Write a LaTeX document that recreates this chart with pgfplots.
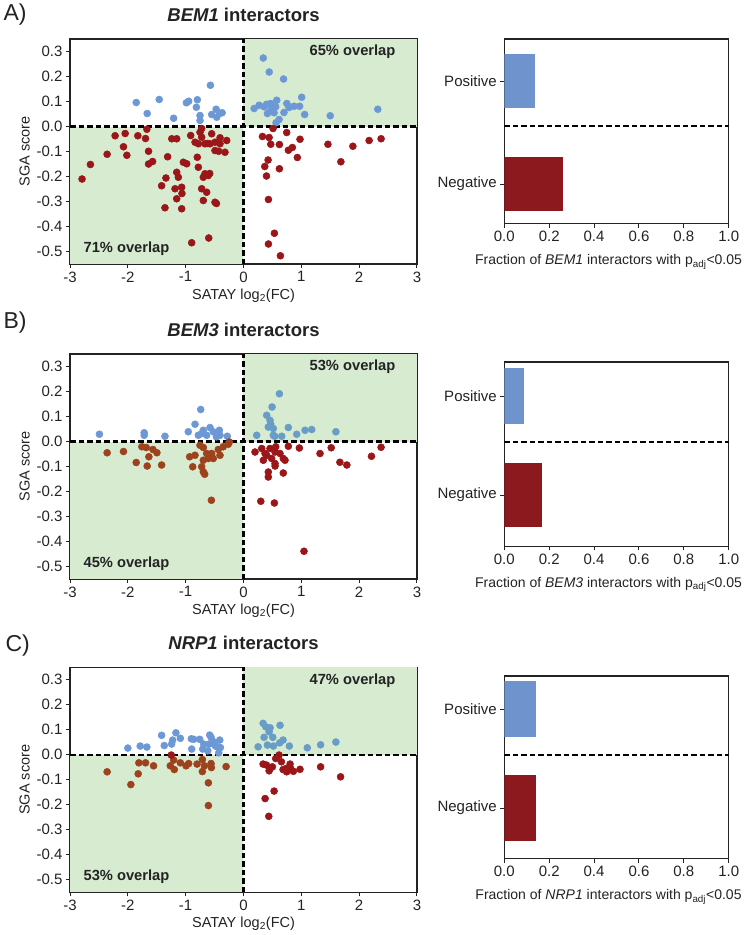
\documentclass[border=0pt]{standalone}
\usepackage{fontspec}
\setmainfont{Liberation Sans}
\usepackage{pgfplots}
\pgfplotsset{compat=1.18}

\definecolor{posblue}{RGB}{108,152,214}
\definecolor{posteal}{RGB}{104,157,200}
\definecolor{negred}{RGB}{155,22,24}
\definecolor{negbrown}{RGB}{158,66,30}
\definecolor{quadgreen}{RGB}{214,235,208}
\definecolor{barblue}{RGB}{111,147,205}
\definecolor{barred}{RGB}{139,25,30}
\definecolor{ink}{RGB}{35,35,35}

\tikzset{
  zeroline/.style={black, line width=2.2pt, dash pattern=on 5.5pt off 3pt},
  overlap/.style={font=\fontsize{14.7}{17}\selectfont\bfseries, text=ink},
}

\pgfplotsset{
  base/.style={
    scale only axis,
    axis line style={ink, line width=1.2pt},
    tick style={ink, line width=1pt},
    tick align=outside, major tick length=4pt,
    xtick pos=bottom, ytick pos=left,
    ticklabel style={font=\fontsize{15}{17}\selectfont, text=ink},
    label style={font=\fontsize{14.5}{17}\selectfont, text=ink},
    /pgf/number format/assume math mode=true,
  },
  scatterax/.style={
    base, width=347pt, height=225pt,
    xmin=-3, xmax=3, ymin=-0.55, ymax=0.35,
    xtick={-3,-2,-1,0,1,2,3},
    ytick={-0.5,-0.4,-0.3,-0.2,-0.1,0,0.1,0.2,0.3},
    yticklabel style={/pgf/number format/.cd, fixed, fixed zerofill, precision=1},
    xlabel={SATAY log\textsubscript{2}(FC)},
    ylabel={SGA score},
    title style={font=\fontsize{18.5}{20}\selectfont\bfseries, text=ink, anchor=base, at={(0.5,1)}, yshift=12pt},
  },
  barax/.style={
    base, width=224.4pt, xmin=0, xmax=1,
    xtick={0,0.2,0.4,0.6,0.8,1},
    xticklabel style={/pgf/number format/.cd, fixed, fixed zerofill, precision=1},
    yticklabels={Negative,Positive},
    xlabel style={font=\fontsize{14}{16}\selectfont, xshift=-8pt, yshift=-6pt},
  },
  dots/.style={only marks, mark=*, mark size=3.5pt, color=#1,
    mark options={solid, draw=#1, fill=#1, line width=0.5pt}},
}

\newcommand{\quadrants}{%
  \addplot[fill=quadgreen, draw=none] coordinates {(-3,-0.55) (0,-0.55) (0,0) (-3,0)} --cycle;
  \addplot[fill=quadgreen, draw=none] coordinates {(0,0) (3,0) (3,0.35) (0,0.35)} --cycle;
  \draw[zeroline] (axis cs:-3,0) -- (axis cs:3,0);
  \draw[zeroline] (axis cs:0,-0.55) -- (axis cs:0,0.35);
}

\begin{document}
\begin{tikzpicture}
\path[use as bounding box] (0,0) rectangle (750pt,-935pt);

% ---------------- A: BEM1 ----------------
\node[anchor=base west, font=\fontsize{23}{25}\selectfont, text=ink] at (0pt,-20.7pt) {A)};
\begin{axis}[scatterax, at={(70pt,-39pt)}, anchor=north west,
  title={\textit{BEM1} interactors}]
\quadrants
\addplot[dots=posblue] table {
-1.855 0.096
-1.665 0.052
-1.457 0.108
-1.208 0.033
-0.988 0.095
-0.948 0.101
-0.798 0.107
-0.815 0.077
-0.752 0.044
-0.752 0.024
-0.572 0.165
-0.474 0.069
-0.550 0.048
-0.406 0.053
-0.463 0.037
-0.370 0.055
0.342 0.274
0.445 0.218
0.693 0.190
1.006 0.117
0.184 0.072
0.270 0.085
0.356 0.079
0.400 0.089
0.471 0.092
0.575 0.105
0.414 0.052
0.500 0.072
0.557 0.079
0.529 0.055
0.700 0.056
0.750 0.092
0.787 0.076
0.874 0.081
0.971 0.081
1.057 0.048
1.500 0.043
2.322 0.069
0.615 0.028
0.563 0.015
0.471 0.065
};
\addplot[dots=negred] table {
-2.792 -0.210
-2.647 -0.152
-2.358 -0.111
-2.220 -0.037
-2.046 -0.028
-2.075 -0.081
-2.017 -0.115
-1.827 -0.037
-1.694 -0.048
-1.671 -0.011
-1.642 -0.099
-1.642 -0.150
-1.572 -0.140
-1.416 -0.237
-1.358 -0.325
-1.312 -0.121
-1.341 -0.206
-1.240 -0.049
-1.155 -0.049
-1.155 -0.183
-1.127 -0.203
-1.069 -0.243
-1.184 -0.249
-1.155 -0.289
-1.069 -0.329
-1.064 -0.268
-1.040 -0.143
-0.982 -0.149
-0.913 -0.036
-0.896 -0.465
-0.838 -0.063
-0.799 -0.123
-0.781 -0.163
-0.780 -0.069
-0.752 -0.023
-0.723 -0.043
-0.723 -0.008
-0.666 -0.069
-0.666 -0.189
-0.609 -0.196
-0.695 -0.203
-0.723 -0.249
-0.637 -0.263
-0.695 -0.296
-0.601 -0.446
-0.584 -0.188
-0.579 -0.069
-0.550 -0.029
-0.493 -0.063
-0.493 -0.096
-0.493 -0.303
-0.468 -0.308
-0.406 -0.045
-0.406 -0.069
-0.320 -0.103
-0.290 -0.056
-0.430 -0.099
-0.620 -0.068
0.511 -0.008
0.328 -0.040
0.443 -0.044
0.471 -0.071
0.621 -0.072
0.747 -0.024
0.977 -0.051
0.845 -0.084
0.776 -0.095
0.931 -0.124
0.425 -0.134
0.368 -0.160
0.621 -0.169
0.397 -0.198
0.431 -0.292
0.534 -0.427
0.431 -0.470
0.638 -0.517
1.460 -0.071
1.684 -0.141
1.891 -0.079
2.172 -0.056
2.379 -0.049
};
\node[overlap, anchor=east] at (axis description cs:0.948,0.942) {65\% overlap};
\node[overlap, anchor=west] at (axis description cs:0.029,0.070) {71\% overlap};
\end{axis}

\begin{axis}[barax, at={(504.3pt,-39pt)}, anchor=north west, height=184.7pt,
  ymin=0, ymax=184.7, ytick={39.7,142.55},
  xlabel={Fraction of \textit{BEM1} interactors with p\textsubscript{adj}<0.05}]
\addplot[xbar, bar width=54.3pt, fill=barblue, draw=none] coordinates {(0.138,142.55)};
\addplot[xbar, bar width=54pt, fill=barred, draw=none] coordinates {(0.262,39.7)};
\draw[zeroline] (axis cs:0,97.4) -- (axis cs:1,97.4);
\end{axis}

% ---------------- B: BEM3 ----------------
\node[anchor=base west, font=\fontsize{23}{25}\selectfont, text=ink] at (0pt,-328.3pt) {B)};
\begin{axis}[scatterax, at={(70pt,-354pt)}, anchor=north west,
  title={\textit{BEM3} interactors}]
\quadrants
\addplot[dots=posblue] table {
-2.491 0.029
-1.717 0.035
-1.717 0.025
-1.358 0.021
-0.955 0.039
-0.838 0.069
-0.740 0.128
-0.781 0.025
-0.723 0.032
-0.695 0.045
-0.637 0.025
-0.579 0.056
-0.522 0.039
-0.418 0.045
-0.406 0.025
-0.468 0.019
-0.280 0.021
};
\addplot[dots=negbrown] table {
-2.358 -0.045
-2.075 -0.040
-1.855 -0.084
-1.757 -0.021
-1.682 -0.024
-1.665 -0.098
-1.636 -0.061
-1.566 -0.032
-1.497 -0.045
-1.416 -0.094
-0.931 -0.061
-0.878 -0.101
-0.752 -0.015
-0.695 -0.024
-0.838 -0.055
-0.637 -0.048
-0.550 -0.048
-0.609 -0.068
-0.695 -0.075
-0.723 -0.101
-0.695 -0.121
-0.671 -0.131
-0.522 -0.068
-0.436 -0.032
-0.350 -0.021
-0.263 -0.011
-0.245 -0.002
-0.406 -0.055
-0.555 -0.235
};
\addplot[dots=posteal] table {
0.621 0.191
0.494 0.138
0.401 0.105
0.458 0.085
0.429 0.058
0.515 0.052
0.515 0.025
0.540 0.021
0.228 0.025
0.661 0.021
0.775 0.056
0.920 0.029
1.064 0.045
1.180 0.048
1.598 0.039
0.471 0.070
};
\addplot[dots=negred] table {
0.199 -0.042
0.315 -0.028
0.372 -0.048
0.458 -0.028
0.545 -0.042
0.631 -0.048
0.343 -0.075
0.487 -0.068
0.688 -0.068
0.718 -0.075
0.545 -0.088
0.557 -0.021
0.402 -0.055
0.429 -0.122
0.429 -0.142
0.688 -0.126
0.546 -0.098
0.775 -0.019
0.966 -0.026
1.323 -0.048
1.517 -0.025
1.667 -0.083
1.787 -0.094
2.213 -0.059
2.379 -0.023
0.299 -0.239
0.534 -0.246
1.046 -0.439
};
\node[overlap, anchor=east] at (axis description cs:0.948,0.942) {53\% overlap};
\node[overlap, anchor=west] at (axis description cs:0.029,0.070) {45\% overlap};
\end{axis}

\begin{axis}[barax, at={(504.3pt,-362pt)}, anchor=north west, height=184.3pt,
  ymin=0, ymax=184.3, ytick={51.3,150.15},
  xlabel={Fraction of \textit{BEM3} interactors with p\textsubscript{adj}<0.05}]
\addplot[xbar, bar width=55.7pt, fill=barblue, draw=none] coordinates {(0.086,150.15)};
\addplot[xbar, bar width=64pt, fill=barred, draw=none] coordinates {(0.167,51.3)};
\draw[zeroline] (axis cs:0,104.6) -- (axis cs:1,104.6);
\end{axis}

% ---------------- C: NRP1 ----------------
\node[anchor=base west, font=\fontsize{23}{25}\selectfont, text=ink] at (2pt,-651.7pt) {C)};
\begin{axis}[scatterax, at={(70pt,-667.3pt)}, anchor=north west,
  title={\textit{NRP1} interactors}]
\quadrants
\addplot[dots=posblue] table {
-2.000 0.027
-1.786 0.035
-1.671 0.031
-1.416 0.078
-1.370 0.037
-1.243 0.043
-1.225 0.059
-1.168 0.088
-1.092 0.066
-0.902 0.064
-0.896 0.023
-0.861 0.062
-0.757 0.062
-0.705 0.023
-0.688 0.043
-0.618 0.016
-0.584 0.079
-0.561 0.070
-0.595 0.043
-0.514 0.052
-0.457 0.032
-0.410 0.059
-0.399 0.029
-0.428 0.008
-0.486 0.036
};
\addplot[dots=negbrown] table {
-2.358 -0.068
-1.948 -0.119
-1.821 -0.076
-1.809 -0.032
-1.694 -0.032
-1.555 -0.044
-1.266 -0.044
-1.197 -0.059
-1.208 -0.021
-1.092 -0.032
-0.994 -0.044
-0.948 -0.035
-0.803 -0.037
-0.711 -0.019
-0.711 -0.067
-0.676 -0.044
-0.607 -0.112
-0.607 -0.203
-0.561 -0.035
-0.555 -0.051
-0.301 -0.047
};
\addplot[dots=negred] table {
-1.249 -0.001
};
\addplot[dots=posteal] table {
0.339 0.126
0.385 0.112
0.460 0.108
0.632 0.118
0.443 0.092
0.356 0.070
0.506 0.070
0.684 0.059
0.626 0.048
0.253 0.032
0.414 0.039
0.517 0.035
0.793 0.035
1.103 0.028
1.333 0.040
1.598 0.051
};
\addplot[dots=negred] table {
0.615 -0.001
0.557 -0.015
0.655 -0.028
0.339 -0.037
0.397 -0.041
0.500 -0.048
0.460 -0.055
0.443 -0.064
0.684 -0.059
0.747 -0.068
0.805 -0.037
0.816 -0.055
0.862 -0.066
0.977 -0.058
0.730 -0.055
1.333 -0.048
1.678 -0.088
0.529 -0.145
0.374 -0.175
0.437 -0.246
};
\node[overlap, anchor=east] at (axis description cs:0.948,0.942) {47\% overlap};
\node[overlap, anchor=west] at (axis description cs:0.029,0.070) {53\% overlap};
\end{axis}

\begin{axis}[barax, at={(504.3pt,-676pt)}, anchor=north west, height=182.7pt,
  ymin=0, ymax=182.7, ytick={50.7,149.55},
  xlabel={Fraction of \textit{NRP1} interactors with p\textsubscript{adj}<0.05}]
\addplot[xbar, bar width=56.3pt, fill=barblue, draw=none] coordinates {(0.143,149.55)};
\addplot[xbar, bar width=65.4pt, fill=barred, draw=none] coordinates {(0.141,50.7)};
\draw[zeroline] (axis cs:0,104) -- (axis cs:1,104);
\end{axis}
\end{tikzpicture}
\end{document}
